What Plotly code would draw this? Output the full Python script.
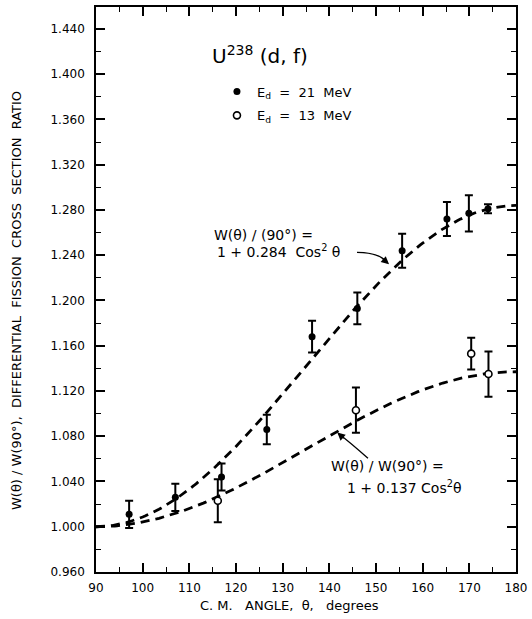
import numpy as np
import plotly.graph_objects as go

# Measured differential fission cross-section ratios, U238(d,f)
theta_21 = [97.1, 107.0, 116.9, 126.6, 136.3, 146.0, 155.6, 165.2, 169.9, 174.0]
ratio_21 = [1.011, 1.026, 1.044, 1.086, 1.168, 1.193, 1.244, 1.272, 1.277, 1.281]
err_21 = [0.012, 0.012, 0.012, 0.013, 0.014, 0.014, 0.015, 0.015, 0.016, 0.004]

theta_13 = [116.1, 145.7, 170.4, 174.1]
ratio_13 = [1.023, 1.103, 1.153, 1.135]
err_13 = [0.019, 0.020, 0.014, 0.020]

# Fitted anisotropy coefficients: W(theta)/W(90) = 1 + a cos^2(theta)
coef_21 = 0.284
coef_13 = 0.137

x_ticks = list(range(90, 181, 10))
y_ticks = [round(0.96 + 0.04 * i, 3) for i in range(13)]

FONT = "DejaVu Sans"
NB = "\u00a0"

theta_fit = np.linspace(90, 180, 181)
cos2 = np.cos(np.radians(theta_fit)) ** 2

fig = go.Figure()

for coef in (coef_21, coef_13):
    fig.add_trace(go.Scatter(
        x=theta_fit, y=1 + coef * cos2, mode="lines",
        line=dict(color="black", width=2.8, dash="9px,6px"),
        showlegend=False, hoverinfo="skip",
    ))

fig.add_trace(go.Scatter(
    x=theta_21, y=ratio_21, mode="markers",
    marker=dict(symbol="circle", size=7, color="black"),
    error_y=dict(type="data", array=err_21, color="black", thickness=2, width=4),
    name=f"E<sub>d</sub>{NB}{NB}={NB}{NB}21{NB}{NB}MeV", legendgroup="a",
))
fig.add_trace(go.Scatter(
    x=theta_13, y=ratio_13, mode="markers",
    marker=dict(symbol="circle", size=7, color="white",
                line=dict(color="black", width=1.6)),
    error_y=dict(type="data", array=err_13, color="black", thickness=2, width=4),
    name=f"E<sub>d</sub>{NB}{NB}={NB}{NB}13{NB}{NB}MeV", legendgroup="b",
))

axis_common = dict(
    showline=True, linecolor="black", linewidth=1.6, mirror="ticks",
    ticks="inside", ticklen=9, tickwidth=1.5, tickcolor="black",
    showgrid=False, zeroline=False,
    tickfont=dict(family=FONT, size=12, color="black"),
)

fig.update_xaxes(
    range=[90, 180], tickvals=x_ticks, ticktext=[str(v) for v in x_ticks],
    ticklabelstandoff=4,
    minor=dict(dtick=5, tick0=90, ticks="inside", ticklen=5, tickwidth=1.3,
               tickcolor="black", showgrid=False),
    **axis_common,
)
fig.update_yaxes(
    range=[0.960, 1.4594], tickvals=y_ticks, ticktext=[f"{v:.3f}" for v in y_ticks],
    ticklabelstandoff=7,
    minor=dict(dtick=0.02, tick0=0.96, ticks="inside", ticklen=5, tickwidth=1.3,
               tickcolor="black", showgrid=False),
    **axis_common,
)

ann = []
txt = dict(family=FONT, size=14, color="black")

ann.append(dict(x=114.4, y=1.417, xref="x", yref="y", xanchor="left", yanchor="middle",
                text="U<sup>238</sup> (d,\u00a0f)", showarrow=False,
                font=dict(family=FONT, size=20, color="black")))

# Upper curve label
ann.append(dict(x=114.8, y=1.2576, xref="x", yref="y", xanchor="left", yanchor="middle",
                text=f"W(θ){NB}/{NB}(90°){NB}=", showarrow=False, font=txt))
ann.append(dict(x=115.5, y=1.2435, xref="x", yref="y", xanchor="left", yanchor="middle",
                text=f"1{NB}+{NB}0.284{NB}{NB}Cos<sup>2</sup>{NB}θ", showarrow=False, font=txt))
# Lower curve label
ann.append(dict(x=139.9, y=1.0535, xref="x", yref="y", xanchor="left", yanchor="middle",
                text=f"W(θ){NB}/{NB}W(90°){NB}=", showarrow=False, font=txt))
ann.append(dict(x=143.3, y=1.035, xref="x", yref="y", xanchor="left", yanchor="middle",
                text=f"1{NB}+{NB}0.137{NB}Cos<sup>2</sup>θ", showarrow=False, font=txt))

# Arrow heads
ann.append(dict(x=152.8, y=1.232, xref="x", yref="y", ax=-8, ay=-7, text="",
                showarrow=True, arrowhead=2, arrowsize=1.2, arrowwidth=1.3, arrowcolor="black"))
ann.append(dict(x=141.7, y=1.0832, xref="x", yref="y", ax=8, ay=7, text="",
                showarrow=True, arrowhead=2, arrowsize=1.2, arrowwidth=1.3, arrowcolor="black"))

# Axis titles
ann.append(dict(x=0.46, y=-0.06, xref="paper", yref="paper", xanchor="center", yanchor="middle",
                text=f"C.{NB}M.{NB}{NB}{NB}ANGLE,{NB}{NB}θ,{NB}{NB}{NB}degrees", showarrow=False,
                font=dict(family=FONT, size=13, color="black")))
ann.append(dict(x=-0.188, y=0.4797, xref="paper", yref="paper", xanchor="center", yanchor="middle",
                textangle=-90,
                text=(f"W(θ){NB}/{NB}W(90°),{NB}{NB}DIFFERENTIAL{NB}{NB}FISSION{NB}{NB}"
                      f"CROSS{NB}{NB}SECTION{NB}{NB}RATIO"),
                showarrow=False, font=dict(family=FONT, size=13, color="black")))

shapes = [
    dict(type="path", xref="x", yref="y", line=dict(color="black", width=1.3),
         path="M 145.93,1.2426 Q 150.8,1.2425 152.3,1.2335"),
    dict(type="path", xref="x", yref="y", line=dict(color="black", width=1.3),
         path="M 148.28,1.0605 Q 144.4,1.0747 142.0,1.0822"),
]

fig.update_layout(
    width=532, height=619, autosize=False,
    margin=dict(l=96, r=16, t=5, b=47),
    paper_bgcolor="white", plot_bgcolor="white",
    font=dict(family=FONT, size=12, color="black"),
    annotations=ann, shapes=shapes,
    showlegend=True,
    legend=dict(x=0.288, y=0.877, xanchor="left", yanchor="top",
                bgcolor="rgba(0,0,0,0)", tracegroupgap=4,
                font=dict(family=FONT, size=13, color="black")),
    hovermode=False,
)

fig.write_html("out.html")
